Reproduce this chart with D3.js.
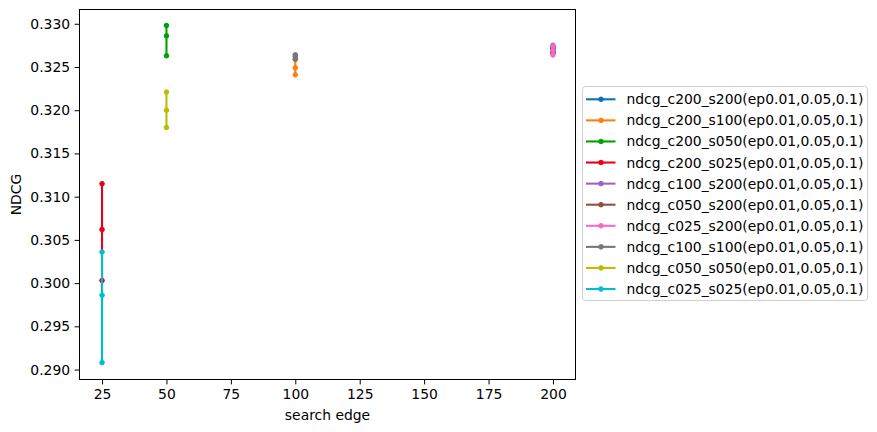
<!DOCTYPE html>
<html>
<head>
<meta charset="utf-8">
<script src="https://cdn.jsdelivr.net/npm/d3@7"></script>
<style>
  html, body { margin: 0; padding: 0; background: #fff; }
  svg { display: block; }
  text { font-family: "DejaVu Sans", sans-serif; fill: #000; }
</style>
</head>
<body>
<svg id="chart" width="877" height="432"></svg>
<script>
// ---- data ----
const seriesNames = [
  "ndcg_c200_s200(ep0.01,0.05,0.1)",
  "ndcg_c200_s100(ep0.01,0.05,0.1)",
  "ndcg_c200_s050(ep0.01,0.05,0.1)",
  "ndcg_c200_s025(ep0.01,0.05,0.1)",
  "ndcg_c100_s200(ep0.01,0.05,0.1)",
  "ndcg_c050_s200(ep0.01,0.05,0.1)",
  "ndcg_c025_s200(ep0.01,0.05,0.1)",
  "ndcg_c100_s100(ep0.01,0.05,0.1)",
  "ndcg_c050_s050(ep0.01,0.05,0.1)",
  "ndcg_c025_s025(ep0.01,0.05,0.1)"
];
const searchEdge = [200, 100, 50, 25, 200, 200, 200, 100, 50, 25];
const ndcgEp001 = [0.3272, 0.3259, 0.3298, 0.3115, 0.3275, 0.3273, 0.3274, 0.3264, 0.3221, 0.3036];
const ndcgEp005 = [0.3270, 0.3249, 0.3286, 0.3062, 0.3272, 0.3270, 0.3269, 0.3262, 0.3200, 0.2986];
const ndcgEp010 = [0.3267, 0.3241, 0.3263, 0.3003, 0.3268, 0.3266, 0.3264, 0.3259, 0.3180, 0.2908];
const colors = ["#0a71b2", "#ff7f0e", "#00a000", "#e6001a", "#9b62c4", "#8c5040", "#f06cc4", "#777777", "#bcbc00", "#00bed0"];
const xTicks = [25, 50, 75, 100, 125, 150, 175, 200];
const yTicks = [0.290, 0.295, 0.300, 0.305, 0.310, 0.315, 0.320, 0.325, 0.330];

// ---- layout ----
const svg = d3.select("#chart");
const L = 79.5, R = 575.5, T = 9.5, B = 379.5;

const x = d3.scaleLinear().domain([16.25, 208.75]).range([L, R]);
const y = d3.scaleLinear().domain([0.28885, 0.33165]).range([B, T]);

// axes
const xAxis = d3.axisBottom(x).tickValues(xTicks).tickSize(4.9).tickPadding(4.5).tickFormat(d3.format("d"));
const yAxis = d3.axisLeft(y).tickValues(yTicks).tickSize(4.9).tickPadding(4.5).tickFormat(d3.format(".3f"));

const gx = svg.append("g").attr("transform", `translate(0,${B})`).call(xAxis);
const gy = svg.append("g").attr("transform", `translate(${L},0)`).call(yAxis);
[gx, gy].forEach(g => {
  g.select(".domain").remove();
  g.selectAll("line").attr("stroke", "#000").attr("stroke-width", 1);
  g.selectAll("text").attr("font-size", "13.9px").attr("font-family", "DejaVu Sans, sans-serif").attr("fill", "#000");
});

// series
const lineGen = d3.line().x(d => x(d[0])).y(d => y(d[1]));
const plot = svg.append("g");
seriesNames.forEach((name, i) => {
  const pts = [ndcgEp001[i], ndcgEp005[i], ndcgEp010[i]].map(v => [searchEdge[i], v]);
  plot.append("path").datum(pts)
    .attr("d", lineGen).attr("fill", "none")
    .attr("stroke", colors[i]).attr("stroke-width", 2.08);
  plot.selectAll(null).data(pts).enter().append("circle")
    .attr("cx", d => x(d[0])).attr("cy", d => y(d[1]))
    .attr("r", 2.3).attr("fill", colors[i])
    .attr("stroke", colors[i]).attr("stroke-width", 1);
});

// frame
svg.append("rect").attr("x", L).attr("y", T).attr("width", R - L).attr("height", B - T)
  .attr("fill", "none").attr("stroke", "#000").attr("stroke-width", 1);

// axis labels
svg.append("text").attr("x", (L + R) / 2).attr("y", 420).attr("text-anchor", "middle")
  .attr("font-size", "13.9px").text("search edge");
svg.append("text").attr("transform", `translate(21,${(T + B) / 2}) rotate(-90)`)
  .attr("text-anchor", "middle").attr("font-size", "13.9px").text("NDCG");

// legend
const lg = svg.append("g");
lg.append("rect").attr("x", 582.5).attr("y", 86.5).attr("width", 285).attr("height", 214)
  .attr("rx", 3).attr("fill", "#fff").attr("stroke", "#d0d0d0").attr("stroke-width", 1);
seriesNames.forEach((name, i) => {
  const cy = 99.3 + i * 21.08;
  lg.append("line").attr("x1", 586).attr("x2", 615.5).attr("y1", cy).attr("y2", cy)
    .attr("stroke", colors[i]).attr("stroke-width", 2.08);
  lg.append("circle").attr("cx", 601).attr("cy", cy).attr("r", 2.3)
    .attr("fill", colors[i]).attr("stroke", colors[i]).attr("stroke-width", 1);
  lg.append("text").attr("x", 626.5).attr("y", cy).attr("dy", "0.36em")
    .attr("font-size", "13.9px").text(name);
});
</script>
</body>
</html>
